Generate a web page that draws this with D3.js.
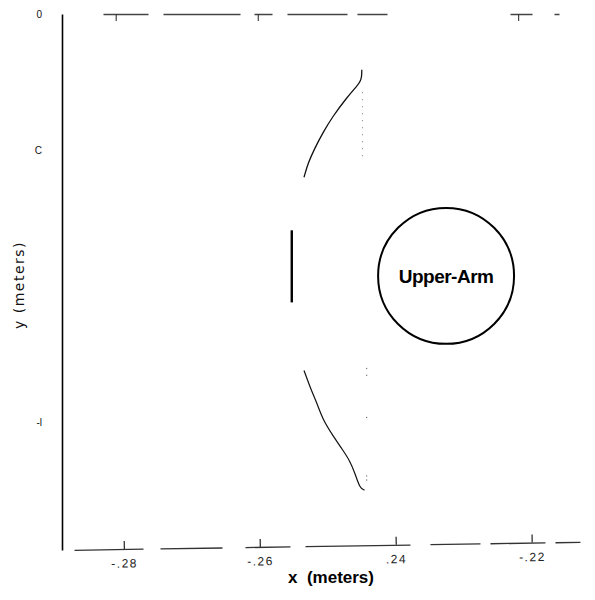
<!DOCTYPE html>
<html>
<head>
<meta charset="utf-8">
<script src="https://d3js.org/d3.v7.min.js"></script>
<style>
  body { margin: 0; background: #fff; }
  svg { display: block; }
</style>
</head>
<body>
<div id="chart"></div>
<script>
// plot size
var width = 595, height = 600;

// x ticks along the bottom / top
var xTickValues = [-0.28, -0.26, -0.24, -0.22];
var xTickLabels = ["-.28", "-.26", ".24", "-.22"];
var topTickValues = [-0.2812, -0.2603, -0.2220];

// y ticks (labels as they survive in the scan)
var yTickValues = [0.04, 0.02, -0.02];
var yTickLabels = ["0", "C", "-l"];

// upper arc (meters)
var upperX = [-0.2535, -0.2529, -0.2519, -0.2507, -0.2493, -0.2473, -0.2458, -0.2450, -0.2450];
var upperY = [0.0160, 0.0181, 0.0203, 0.0226, 0.0249, 0.0276, 0.0293, 0.0303, 0.0318];

// faint dotted drop under the upper arc
var upperDotX = [-0.2449, -0.2449];
var upperDotY = [0.0285, 0.0188];

// lower arc (meters)
var lowerX = [-0.2535, -0.2526, -0.2516, -0.2507, -0.2493, -0.2478, -0.2468, -0.2460, -0.2453, -0.2446];
var lowerY = [-0.0124, -0.0149, -0.0172, -0.0197, -0.0219, -0.0241, -0.0256, -0.0275, -0.0297, -0.0300];

// loose dots beside the lower arc
var lowerDotX = [-0.2443, -0.2443, -0.2443, -0.2443, -0.2443];
var lowerDotY = [-0.0121, -0.0131, -0.0193, -0.0279, -0.0285];

// short vertical bar
var barX = [-0.2553, -0.2553];
var barY = [0.0082, -0.0024];

// upper arm circle
var armX = -0.2326, armY = 0.0015, armR = 0.0100;
var armLabel = "Upper-Arm";

var svg = d3.select("#chart").append("svg")
    .attr("width", width)
    .attr("height", height);

// same metres-per-pixel on both axes
var x = d3.scaleLinear().domain([-0.2891, -0.2129]).range([62, 580]);
var y = d3.scaleLinear().domain([-0.0388, 0.0400]).range([550, 14]);

function pts(xs, ys) { return xs.map(function(d, i) { return [d, ys[i]]; }); }

var line = d3.line()
    .x(function(d) { return x(d[0]); })
    .y(function(d) { return y(d[1]); })
    .curve(d3.curveBasis);

var straight = d3.line()
    .x(function(d) { return x(d[0]); })
    .y(function(d) { return y(d[1]); });

// left axis: plain line, labels only
var yAxis = svg.append("g")
    .attr("transform", "translate(62,0)")
    .call(d3.axisLeft(y).tickValues(yTickValues)
        .tickSize(0).tickPadding(20)
        .tickFormat(function(d, i) { return yTickLabels[i]; }));
yAxis.select(".domain").attr("stroke", "#000").attr("stroke-width", 1.6);
yAxis.selectAll("text")
    .style("font-family", "Liberation Sans, Arial, sans-serif")
    .style("font-size", "10px")
    .attr("fill", "#111");

// bottom axis, slightly tilted like the scan
var xAxis = svg.append("g")
    .attr("transform", "translate(0,550) rotate(-0.9,62,0)")
    .call(d3.axisBottom(x).tickValues(xTickValues)
        .tickSizeOuter(0).tickSizeInner(-8).tickPadding(10)
        .tickFormat(function(d, i) { return xTickLabels[i]; }));
xAxis.select(".domain")
    .attr("stroke", "#333").attr("stroke-width", 1.3)
    .attr("stroke-dasharray", "0,12,69,17,62,23,45,15,105,20,50,10,55,10,25");
xAxis.selectAll(".tick line").attr("stroke", "#222").attr("stroke-width", 1.2);
xAxis.selectAll("text")
    .style("font-family", "Liberation Sans, Arial, sans-serif")
    .style("font-size", "12px")
    .style("letter-spacing", "1.5px")
    .attr("fill", "#222");

// top frame line, broken up
var topAxis = svg.append("g")
    .attr("transform", "translate(0,14)")
    .call(d3.axisTop(x).tickValues(topTickValues)
        .tickSizeOuter(0).tickSizeInner(-7).tickFormat(""));
topAxis.select(".domain")
    .attr("stroke", "#444").attr("stroke-width", 1.3)
    .attr("stroke-dasharray", "0,41,45,15,77,14,18,15,60,10,30,123,22,22,5,100");
topAxis.selectAll(".tick line").attr("stroke", "#333").attr("stroke-width", 1.1);

// axis titles
svg.append("text")
    .attr("x", 331)
    .attr("y", 583)
    .attr("text-anchor", "middle")
    .style("font-family", "Liberation Sans, Arial, sans-serif")
    .style("font-size", "17px")
    .style("font-weight", "bold")
    .attr("xml:space", "preserve")
    .text("x  (meters)");

svg.append("text")
    .attr("transform", "translate(24,285) rotate(-90)")
    .attr("text-anchor", "middle")
    .style("font-family", "DejaVu Sans, sans-serif")
    .style("font-size", "14px")
    .style("letter-spacing", "1.5px")
    .attr("fill", "#111")
    .text("y (meters)");

// arcs
svg.append("path")
    .datum(pts(upperX, upperY))
    .attr("d", line)
    .attr("fill", "none")
    .attr("stroke", "#111")
    .attr("stroke-width", 1.3);

svg.append("path")
    .datum(pts(upperDotX, upperDotY))
    .attr("d", straight)
    .attr("fill", "none")
    .attr("stroke", "#777")
    .attr("stroke-width", 1)
    .attr("stroke-dasharray", "1,6");

svg.append("path")
    .datum(pts(lowerX, lowerY))
    .attr("d", line)
    .attr("fill", "none")
    .attr("stroke", "#111")
    .attr("stroke-width", 1.2);

svg.append("g")
    .selectAll("rect")
    .data(pts(lowerDotX, lowerDotY))
    .enter().append("rect")
    .attr("x", function(d) { return x(d[0]) - 0.5; })
    .attr("y", function(d) { return y(d[1]) - 0.5; })
    .attr("width", 1.2)
    .attr("height", 1.2)
    .attr("fill", "#777");

// bar
svg.append("path")
    .datum(pts(barX, barY))
    .attr("d", straight)
    .attr("stroke", "#000")
    .attr("stroke-width", 2.4);

// upper arm
svg.append("circle")
    .attr("cx", x(armX))
    .attr("cy", y(armY))
    .attr("r", x(armX + armR) - x(armX))
    .attr("fill", "none")
    .attr("stroke", "#000")
    .attr("stroke-width", 2);

svg.append("text")
    .attr("x", x(armX))
    .attr("y", y(armY) + 7)
    .attr("text-anchor", "middle")
    .style("font-family", "Liberation Sans, Arial, sans-serif")
    .style("font-size", "19px")
    .style("font-weight", "bold")
    .style("letter-spacing", "-0.5px")
    .text(armLabel);
</script>
</body>
</html>
